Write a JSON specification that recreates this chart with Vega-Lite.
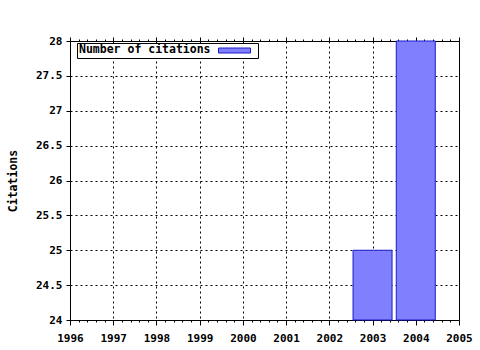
{
  "$schema": "https://vega.github.io/schema/vega-lite/v6.json",
  "width": 389,
  "height": 279,
  "autosize": {"type": "none"},
  "padding": {"left": 70, "top": 41, "right": 21, "bottom": 30},
  "background": "white",
  "config": {
    "view": {"stroke": "black", "strokeWidth": 1},
    "axis": {
      "labelFont": "DejaVu Sans Mono",
      "labelFontWeight": "bold",
      "labelFontSize": 11,
      "labelColor": "black",
      "labelFlush": false,
      "labelOverlap": false,
      "titleFont": "DejaVu Sans Mono",
      "titleFontWeight": "bold",
      "titleFontSize": 11.5,
      "titleColor": "black",
      "tickColor": "black",
      "domain": false,
      "gridColor": "black",
      "gridDash": [2, 3],
      "gridOpacity": 1
    }
  },
  "data": {
    "values": [
      {"year": 2003, "citations": 25},
      {"year": 2004, "citations": 28}
    ]
  },
  "layer": [
    {
      "mark": {"type": "bar", "width": 39, "fill": "#8080ff", "stroke": "#1a1acc", "strokeWidth": 1, "opacity": 1},
      "encoding": {
        "x": {
          "field": "year", "type": "quantitative",
          "scale": {"domain": [1996, 2005], "nice": false, "zero": false, "padding": 0},
          "axis": {
            "orient": "bottom",
            "values": [1996, 1997, 1998, 1999, 2000, 2001, 2002, 2003, 2004, 2005],
            "format": "d", "grid": true, "tickSize": 5, "labelPadding": 7, "title": null
          }
        },
        "y": {
          "field": "citations", "type": "quantitative",
          "scale": {"domain": [24, 28], "nice": false, "zero": false},
          "axis": {
            "values": [24, 24.5, 25, 25.5, 26, 26.5, 27, 27.5, 28],
            "format": ".1~f", "grid": true, "tickSize": 4, "labelPadding": 4,
            "title": "Citations", "titlePadding": 17
          }
        },
        "y2": {"datum": 24},
        "color": {
          "datum": "Number of citations",
          "scale": {"range": ["#8080ff"]},
          "legend": {
            "orient": "none", "legendX": 7, "legendY": 2,
            "title": "Number of citations",
            "titleOrient": "left",
            "titleFont": "DejaVu Sans Mono", "titleFontWeight": "bold", "titleFontSize": 11.5,
            "titleColor": "black", "titlePadding": 7, "titleBaseline": "middle",
            "labelExpr": "''", "labelOffset": 27,
            "symbolType": "M-1,-0.5H5.4V0.5H-1Z", "symbolSize": 100,
            "symbolStrokeColor": "#1a1acc", "symbolStrokeWidth": 1, "symbolOpacity": 1,
            "strokeColor": "black", "fillColor": "white", "padding": 2
          }
        }
      }
    },
    {
      "mark": {"type": "point", "opacity": 0},
      "encoding": {
        "x": {
          "field": "year", "type": "quantitative",
          "axis": {
            "orient": "bottom", "labels": false, "grid": false, "tickSize": 2, "title": null,
            "values": [1996.2,1996.4,1996.6,1996.8,1997.2,1997.4,1997.6,1997.8,1998.2,1998.4,1998.6,1998.8,1999.2,1999.4,1999.6,1999.8,2000.2,2000.4,2000.6,2000.8,2001.2,2001.4,2001.6,2001.8,2002.2,2002.4,2002.6,2002.8,2003.2,2003.4,2003.6,2003.8,2004.2,2004.4,2004.6,2004.8]
          }
        }
      }
    },
    {
      "mark": {"type": "point", "opacity": 0},
      "encoding": {
        "x": {
          "field": "year", "type": "quantitative",
          "axis": {
            "orient": "top", "labels": false, "grid": false, "tickSize": 4, "title": null,
            "values": [1996, 1997, 1998, 1999, 2000, 2001, 2002, 2003, 2004, 2005]
          }
        }
      }
    },
    {
      "mark": {"type": "point", "opacity": 0},
      "encoding": {
        "x": {
          "field": "year", "type": "quantitative",
          "axis": {
            "orient": "top", "labels": false, "grid": false, "tickSize": 2, "title": null,
            "values": [1996.2,1996.4,1996.6,1996.8,1997.2,1997.4,1997.6,1997.8,1998.2,1998.4,1998.6,1998.8,1999.2,1999.4,1999.6,1999.8,2000.2,2000.4,2000.6,2000.8,2001.2,2001.4,2001.6,2001.8,2002.2,2002.4,2002.6,2002.8,2003.2,2003.4,2003.6,2003.8,2004.2,2004.4,2004.6,2004.8]
          }
        }
      }
    }
  ],
  "resolve": {"axis": {"x": "independent"}}
}
